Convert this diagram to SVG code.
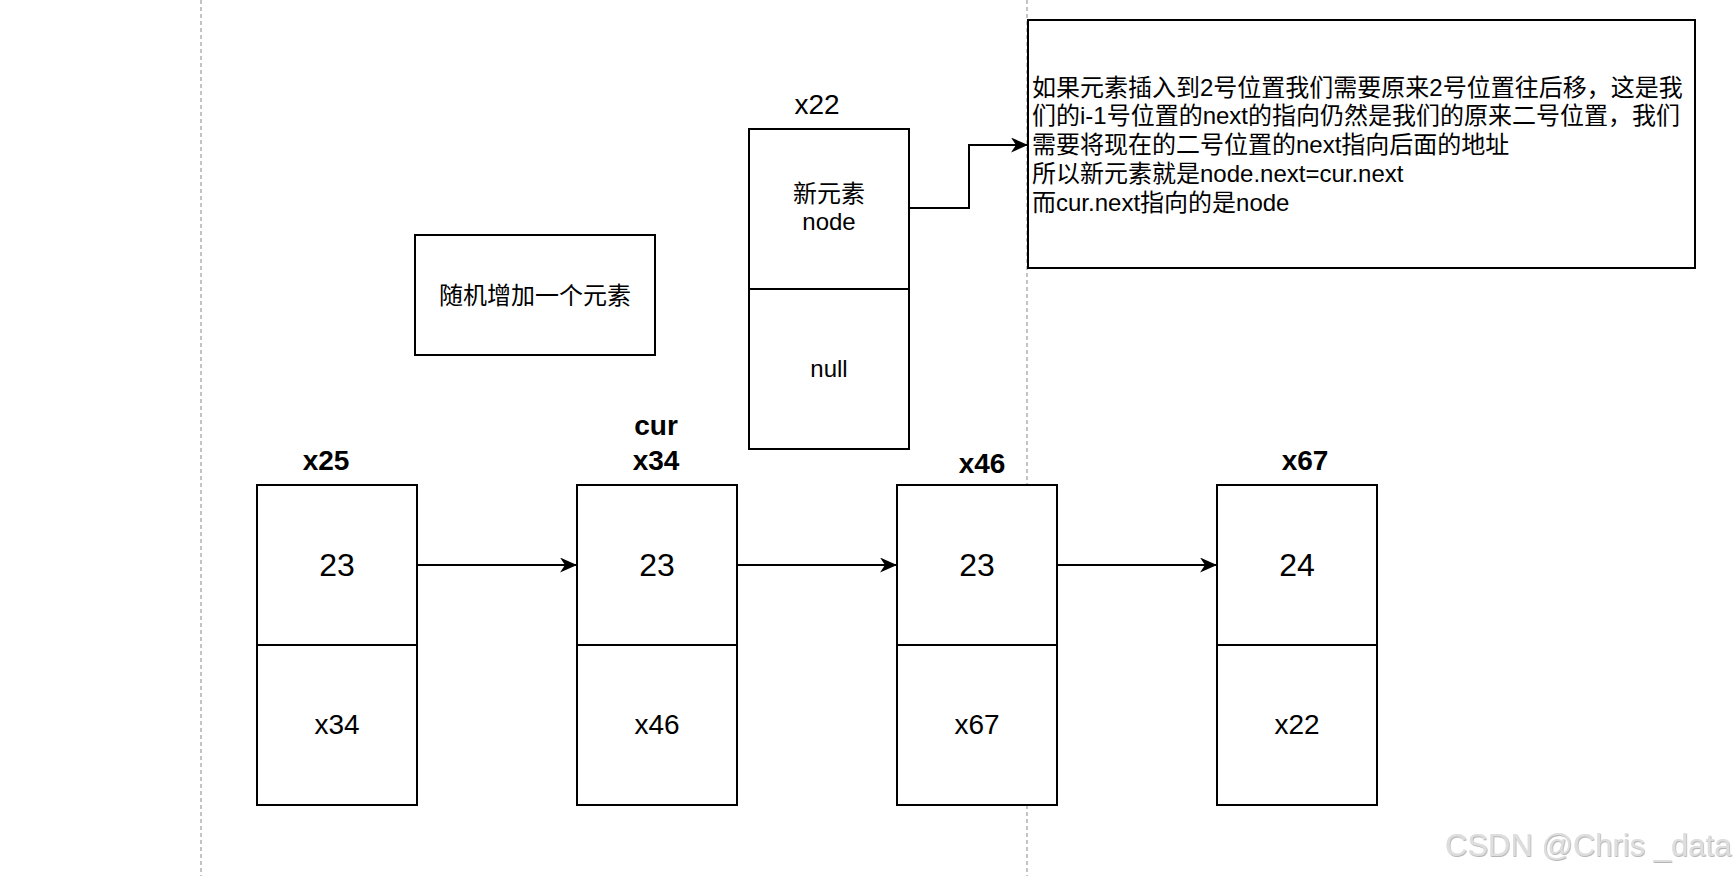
<svg xmlns="http://www.w3.org/2000/svg" width="1736" height="876" viewBox="0 0 1736 876">
  <style>
    .box { fill: #ffffff; stroke: #000000; stroke-width: 2; }
    .div { stroke: #000000; stroke-width: 2; fill: none; }
    .guide { stroke: #c4c4c4; stroke-width: 2; stroke-dasharray: 4 3; fill: none; }
    .conn { stroke: #000000; stroke-width: 2; fill: none; }
    .t { font-family: "Liberation Sans", "Noto Sans CJK SC", sans-serif; fill: #000000; }
    .c { text-anchor: middle; }
    .val { font-size: 32px; }
    .ptr { font-size: 28px; }
    .lbl { font-size: 28px; font-weight: bold; }
    .txt { font-size: 24px; }
    .wm { font-family: "Liberation Sans", sans-serif; font-size: 31px; fill: #dedede; }
  </style>
  <defs>
    <marker id="arrow" markerUnits="userSpaceOnUse" viewBox="0 0 17 15" refX="17" refY="7.5" markerWidth="17" markerHeight="15" orient="auto">
      <path d="M0,0 L17,7.5 L0,15 L5,7.5 Z" fill="#000000"/>
    </marker>
    <filter id="emboss" x="-5%" y="-20%" width="110%" height="140%">
      <feDropShadow dx="0.6" dy="0.8" stdDeviation="0.4" flood-color="#8a8a8a" flood-opacity="0.8"/>
    </filter>
  </defs>

  <rect x="0" y="0" width="1736" height="876" fill="#ffffff"/>

  <g id="guides">
    <line class="guide" x1="201" y1="0" x2="201" y2="876"/>
    <line class="guide" x1="1027" y1="0" x2="1027" y2="876"/>
  </g>

  <g id="connectors">
    <line class="conn" x1="417" y1="565" x2="577" y2="565" marker-end="url(#arrow)"/>
    <line class="conn" x1="737" y1="565" x2="897" y2="565" marker-end="url(#arrow)"/>
    <line class="conn" x1="1057" y1="565" x2="1217" y2="565" marker-end="url(#arrow)"/>
    <polyline class="conn" points="909,208 969,208 969,145 1028,145" marker-end="url(#arrow)"/>
  </g>

  <g id="note-random">
    <rect class="box" x="415" y="235" width="240" height="120"/>
    <text class="t txt c" x="535" y="304">随机增加一个元素</text>
  </g>

  <g id="node-x22">
    <text class="t ptr c" x="817" y="114">x22</text>
    <rect class="box" x="749" y="129" width="160" height="320"/>
    <line class="div" x1="749" y1="289" x2="909" y2="289"/>
    <text class="t txt c" x="829" y="202">新元素</text>
    <text class="t txt c" x="829" y="230">node</text>
    <text class="t txt c" x="829" y="377">null</text>
  </g>

  <g id="note-explain">
    <rect class="box" x="1028" y="20" width="667" height="248"/>
    <text class="t txt" x="1032" y="95.5">如果元素插入到2号位置我们需要原来2号位置往后移，这是我</text>
    <text class="t txt" x="1032" y="124.3">们的i-1号位置的next的指向仍然是我们的原来二号位置，我们</text>
    <text class="t txt" x="1032" y="153.1">需要将现在的二号位置的next指向后面的地址</text>
    <text class="t txt" x="1032" y="181.9">所以新元素就是node.next=cur.next</text>
    <text class="t txt" x="1032" y="210.7">而cur.next指向的是node</text>
  </g>

  <g id="node-x25">
    <text class="t lbl c" x="326" y="470">x25</text>
    <rect class="box" x="257" y="485" width="160" height="320"/>
    <line class="div" x1="257" y1="645" x2="417" y2="645"/>
    <text class="t val c" x="337" y="576">23</text>
    <text class="t ptr c" x="337" y="734">x34</text>
  </g>

  <g id="node-x34">
    <text class="t lbl c" x="656" y="435">cur</text>
    <text class="t lbl c" x="656" y="470">x34</text>
    <rect class="box" x="577" y="485" width="160" height="320"/>
    <line class="div" x1="577" y1="645" x2="737" y2="645"/>
    <text class="t val c" x="657" y="576">23</text>
    <text class="t ptr c" x="657" y="734">x46</text>
  </g>

  <g id="node-x46">
    <text class="t lbl c" x="982" y="473">x46</text>
    <rect class="box" x="897" y="485" width="160" height="320"/>
    <line class="div" x1="897" y1="645" x2="1057" y2="645"/>
    <text class="t val c" x="977" y="576">23</text>
    <text class="t ptr c" x="977" y="734">x67</text>
  </g>

  <g id="node-x67">
    <text class="t lbl c" x="1305" y="470">x67</text>
    <rect class="box" x="1217" y="485" width="160" height="320"/>
    <line class="div" x1="1217" y1="645" x2="1377" y2="645"/>
    <text class="t val c" x="1297" y="576">24</text>
    <text class="t ptr c" x="1297" y="734">x22</text>
  </g>

  <g id="watermark">
    <text class="wm" x="1445" y="856" filter="url(#emboss)">CSDN @Chris _data</text>
  </g>
</svg>
